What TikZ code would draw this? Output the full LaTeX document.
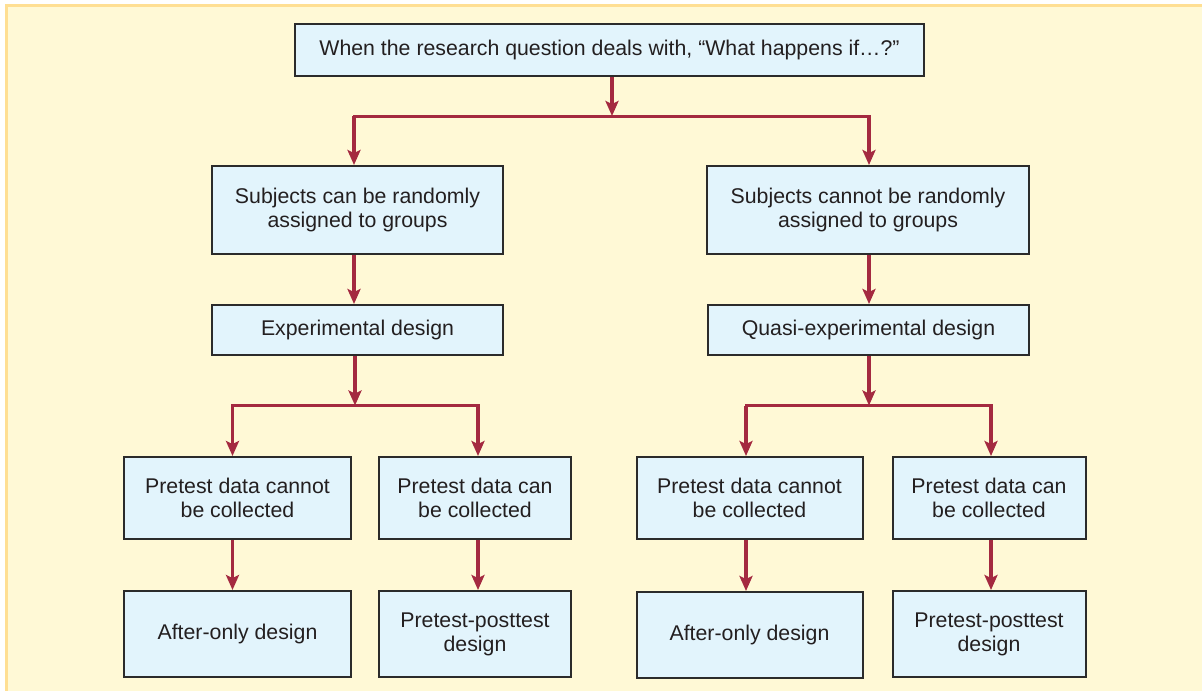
\documentclass[tikz,border=0pt]{standalone}
\usepackage{fontspec}
\setmainfont{Liberation Sans}
\usetikzlibrary{arrows.meta}
\definecolor{pagebg}{HTML}{FFF9D6}
\definecolor{pageedge}{HTML}{FFDF93}
\definecolor{boxfill}{HTML}{E2F4FC}
\definecolor{boxline}{HTML}{2B2B2B}
\definecolor{flow}{HTML}{A42A40}
\definecolor{ink}{HTML}{231F20}
\tikzset{
  stepbox/.style={draw=boxline, line width=2pt, fill=boxfill, text=ink,
    font=\fontsize{21.3}{24}\selectfont, align=center, inner sep=0pt,
    minimum width=#1, anchor=north},
  flowarrow/.style={draw=flow, line width=3.8pt,
    -{Stealth[length=15pt, width=13pt, inset=3pt]}},
  busline/.style={draw=flow, line width=3pt, line cap=rect},
}
\begin{document}
\begin{tikzpicture}[x=1pt, y=-1pt]
  % page background with its edge strips
  \useasboundingbox (0,0) rectangle (1202,691);
  \fill[white] (0,0) rectangle (1202,691);
  \fill[pagebg] (5,4) rectangle (1202,691);
  \fill[pageedge] (5,4) rectangle (1202,6.5);
  \fill[pageedge] (5,4) rectangle (7.5,691);

  % boxes
  \node[stepbox=629pt, minimum height=52pt] (top) at (609.5,23)
    {When the research question deals with, “What happens if…?”};

  \node[stepbox=291pt, minimum height=88pt] (rand) at (357.5,165)
    {Subjects can be randomly\\assigned to groups};
  \node[stepbox=322pt, minimum height=88pt] (norand) at (868,165)
    {Subjects cannot be randomly\\assigned to groups};

  \node[stepbox=291pt, minimum height=50pt] (exp) at (357.5,304)
    {Experimental design};
  \node[stepbox=321pt, minimum height=50pt] (quasi) at (868.5,304)
    {Quasi-experimental design};

  \node[stepbox=227pt, minimum height=82pt] (eno) at (237.5,456)
    {Pretest data cannot\\be collected};
  \node[stepbox=192pt, minimum height=82pt] (eyes) at (475,456)
    {Pretest data can\\be collected};
  \node[stepbox=226pt, minimum height=82pt] (qno) at (749.5,456)
    {Pretest data cannot\\be collected};
  \node[stepbox=193pt, minimum height=82pt] (qyes) at (989,456)
    {Pretest data can\\be collected};

  \node[stepbox=227pt, minimum height=86pt] (eafter) at (237.5,590)
    {After-only design};
  \node[stepbox=192pt, minimum height=86pt] (epp) at (475,590)
    {Pretest-posttest\\design};
  \node[stepbox=226pt, minimum height=86pt] (qafter) at (749.5,591)
    {After-only design};
  \node[stepbox=193pt, minimum height=86pt] (qpp) at (989,590)
    {Pretest-posttest\\design};

  % junction points of the branching lines
  \coordinate (j0) at (612,116);
  \coordinate (jl) at (355,405.5);
  \coordinate (jr) at (869,405.5);

  % lanes the vertical arrows run in
  \coordinate (xrand) at ([xshift=-3.5pt]rand.north);
  \coordinate (xnorand) at ([xshift=1pt]norand.north);
  \coordinate (xeno) at ([xshift=-5pt]eno.north);
  \coordinate (xeyes) at ([xshift=3pt]eyes.north);
  \coordinate (xqno) at ([xshift=-3.5pt]qno.north);
  \coordinate (xqyes) at ([xshift=2pt]qyes.north);

  % top split
  \draw[flowarrow] (top.south -| j0) -- (j0);
  \draw[busline] (xrand |- j0) -- (xnorand |- j0);
  \draw[flowarrow] (xrand |- j0) -- (xrand);
  \draw[flowarrow] (xnorand |- j0) -- (xnorand);

  % to design types
  \draw[flowarrow] (rand.south -| xrand) -- (exp.north -| xrand);
  \draw[flowarrow] (norand.south -| xnorand) -- (quasi.north -| xnorand);

  % experimental split
  \draw[flowarrow] (exp.south -| jl) -- (jl);
  \draw[busline] (xeno |- jl) -- (xeyes |- jl);
  \draw[flowarrow] (xeno |- jl) -- (xeno);
  \draw[flowarrow] (xeyes |- jl) -- (xeyes);

  % quasi-experimental split
  \draw[flowarrow] (quasi.south -| jr) -- (jr);
  \draw[busline] (xqno |- jr) -- (xqyes |- jr);
  \draw[flowarrow] (xqno |- jr) -- (xqno);
  \draw[flowarrow] (xqyes |- jr) -- (xqyes);

  % to final designs
  \draw[flowarrow] (eno.south -| xeno) -- (eafter.north -| xeno);
  \draw[flowarrow] (eyes.south -| xeyes) -- (epp.north -| xeyes);
  \draw[flowarrow] (qno.south -| xqno) -- (qafter.north -| xqno);
  \draw[flowarrow] (qyes.south -| xqyes) -- (qpp.north -| xqyes);
\end{tikzpicture}
\end{document}
